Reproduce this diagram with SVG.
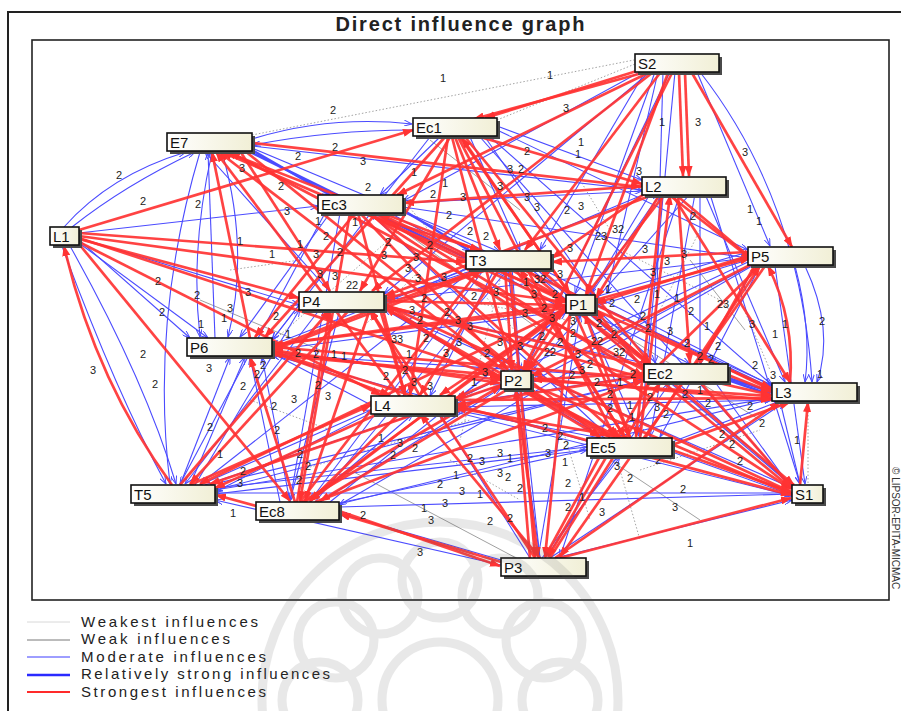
<svg xmlns="http://www.w3.org/2000/svg" width="901" height="711" viewBox="0 0 901 711">
<defs>
<style>
.r{fill:none;stroke:#ff3333;stroke-width:2.7;stroke-opacity:.92;marker-end:url(#ar)}
.b{fill:none;stroke:#4b4bff;stroke-width:1.1;marker-end:url(#ab)}
.bt{stroke-width:2.4}
.g{fill:none;stroke:#777;stroke-width:.7}
.d{fill:none;stroke:#9a9a9a;stroke-width:.9;stroke-dasharray:1.5 2}
.sh{fill:#4a4a4a}
.bx{fill:url(#cream);stroke:#111;stroke-width:1.6}
.nt{font-family:"Liberation Sans",Arial,sans-serif;font-size:15px;fill:#111}
.lb text{font-family:"Liberation Sans",Arial,sans-serif;font-size:11px;fill:#222;text-anchor:middle}
.lg{font-family:"Liberation Sans",Arial,sans-serif;font-size:15px;fill:#222}
</style>
<linearGradient id="cream" x1="0" y1="0" x2="1" y2="0"><stop offset="0" stop-color="#ffffff"/><stop offset="1" stop-color="#f1efd6"/></linearGradient>
<marker id="ar" markerWidth="11" markerHeight="8" refX="10" refY="4" orient="auto" markerUnits="userSpaceOnUse"><path d="M0,0 L11,4 L0,8 z" fill="#ff3333"/></marker>
<marker id="ab" markerWidth="8" markerHeight="6" refX="8" refY="3" orient="auto" markerUnits="userSpaceOnUse"><path d="M0,0 L8,3 L0,6" fill="none" stroke="#4b4bff" stroke-width="1"/></marker>
</defs>
<rect x="0" y="0" width="901" height="711" fill="#ffffff"/>
<rect x="8" y="12" width="900" height="710" fill="none" stroke="#222" stroke-width="2"/>
<rect x="32" y="40" width="857" height="560" fill="#ffffff" stroke="#222" stroke-width="1.6"/>
<text x="460" y="31" text-anchor="middle" textLength="249" font-family="Liberation Sans,Arial,sans-serif" font-size="20" font-weight="bold" fill="#222">Direct influence graph</text>
<text transform="translate(892,467) rotate(90)" font-family="Liberation Sans,Arial,sans-serif" font-size="10" fill="#333">© LIPSOR-EPITA-MICMAC</text>

<g id="connectors">
<g id="weakest">
<line class="d" x1="497" y1="120" x2="635" y2="64"/>
<line class="d" x1="252" y1="135" x2="634" y2="60"/>
<line class="d" x1="808" y1="401" x2="808" y2="484"/>
<line class="d" x1="403" y1="200" x2="540" y2="360"/>
<line class="d" x1="272" y1="342" x2="400" y2="230"/>
<line class="d" x1="300" y1="470" x2="470" y2="420"/>
<line class="d" x1="560" y1="420" x2="590" y2="520"/>
<line class="d" x1="620" y1="250" x2="720" y2="300"/>
<line class="d" x1="460" y1="300" x2="620" y2="330"/>
<line class="d" x1="230" y1="270" x2="300" y2="260"/>
<line class="d" x1="500" y1="280" x2="460" y2="440"/>
<line class="d" x1="700" y1="230" x2="650" y2="330"/>
<line class="d" x1="640" y1="470" x2="760" y2="430"/>
<line class="d" x1="360" y1="330" x2="420" y2="270"/>
<line class="d" x1="250" y1="400" x2="330" y2="430"/>
<line class="d" x1="580" y1="180" x2="610" y2="230"/>
<line class="d" x1="450" y1="460" x2="520" y2="500"/>
<line class="d" x1="620" y1="470" x2="640" y2="540"/>
<line class="d" x1="740" y1="300" x2="770" y2="370"/>
</g>
<g id="weak">
<line class="g" x1="380" y1="214" x2="540" y2="330"/>
<line class="g" x1="600" y1="320" x2="760" y2="420"/>
<line class="g" x1="200" y1="300" x2="320" y2="350"/>
<line class="g" x1="430" y1="140" x2="520" y2="210"/>
<line class="g" x1="350" y1="470" x2="520" y2="560"/>
<line class="g" x1="610" y1="460" x2="700" y2="520"/>
<line class="g" x1="690" y1="260" x2="745" y2="330"/>
</g>
<g id="blue">
<path class="b" d="M252,139 Q330,115 412,124"/>
<path class="b" d="M412,130 Q330,130 253,145"/>
<path class="b" d="M64,227 Q110,175 186,152"/>
<path class="b" d="M72,227 Q125,185 195,152"/>
<path class="b" d="M62,246 Q115,390 166,484"/>
<path class="b" d="M70,246 Q145,380 176,484"/>
<line class="b" x1="79" y1="240" x2="190" y2="338"/>
<line class="b" x1="79" y1="243" x2="208" y2="338"/>
<line class="b" x1="79" y1="238" x2="299" y2="305"/>
<line class="b" x1="79" y1="233" x2="318" y2="206"/>
<path class="b" d="M200,152 Q150,320 170,484"/>
<path class="b" d="M212,152 Q190,250 200,337"/>
<path class="b" d="M222,152 Q250,250 228,337"/>
<line class="b bt" x1="252" y1="150" x2="330" y2="195"/>
<line class="b bt" x1="248" y1="151" x2="466" y2="258"/>
<line class="b" x1="252" y1="148" x2="500" y2="252"/>
<line class="b" x1="252" y1="146" x2="642" y2="190"/>
<line class="b" x1="640" y1="72" x2="403" y2="201"/>
<line class="b" x1="645" y1="72" x2="540" y2="250"/>
<line class="b" x1="655" y1="72" x2="575" y2="294"/>
<line class="b" x1="663" y1="72" x2="655" y2="363"/>
<line class="b" x1="670" y1="72" x2="525" y2="370"/>
<path class="b" d="M700,72 Q800,200 812,382"/>
<line class="b" x1="697" y1="72" x2="770" y2="246"/>
<line class="b" x1="650" y1="72" x2="384" y2="294"/>
<line class="b" x1="675" y1="72" x2="640" y2="437"/>
<line class="b" x1="658" y1="72" x2="607" y2="294"/>
<line class="b" x1="430" y1="137" x2="272" y2="340"/>
<line class="b" x1="440" y1="137" x2="380" y2="195"/>
<line class="b" x1="497" y1="130" x2="748" y2="250"/>
<line class="b" x1="497" y1="126" x2="642" y2="180"/>
<line class="b" x1="470" y1="137" x2="520" y2="250"/>
<line class="b" x1="480" y1="137" x2="792" y2="487"/>
<line class="b" x1="490" y1="137" x2="772" y2="385"/>
<line class="b" x1="485" y1="137" x2="595" y2="296"/>
<line class="b" x1="403" y1="203" x2="642" y2="191"/>
<line class="b" x1="403" y1="207" x2="748" y2="258"/>
<line class="b bt" x1="403" y1="210" x2="470" y2="251"/>
<line class="b" x1="403" y1="212" x2="772" y2="388"/>
<line class="b" x1="330" y1="213" x2="240" y2="337"/>
<line class="b" x1="325" y1="213" x2="180" y2="484"/>
<line class="b" x1="340" y1="213" x2="290" y2="501"/>
<line class="b" x1="390" y1="213" x2="565" y2="310"/>
<line class="b" x1="650" y1="194" x2="590" y2="294"/>
<line class="b" x1="700" y1="194" x2="700" y2="363"/>
<line class="b" x1="705" y1="194" x2="785" y2="382"/>
<line class="b" x1="710" y1="194" x2="800" y2="484"/>
<line class="b" x1="645" y1="194" x2="384" y2="303"/>
<line class="b" x1="690" y1="194" x2="531" y2="372"/>
<line class="b" x1="695" y1="194" x2="650" y2="437"/>
<line class="b" x1="680" y1="194" x2="560" y2="557"/>
<path class="b" d="M805,266 Q835,330 817,382"/>
<path class="b" d="M795,266 Q812,330 805,382"/>
<line class="b" x1="748" y1="260" x2="596" y2="306"/>
<line class="b" x1="760" y1="266" x2="710" y2="363"/>
<line class="b" x1="775" y1="266" x2="805" y2="484"/>
<line class="b" x1="750" y1="266" x2="531" y2="382"/>
<line class="b" x1="748" y1="262" x2="455" y2="400"/>
<line class="b" x1="755" y1="266" x2="660" y2="437"/>
<line class="b" x1="748" y1="258" x2="384" y2="300"/>
<line class="b" x1="752" y1="266" x2="339" y2="505"/>
<line class="b" x1="480" y1="268" x2="384" y2="300"/>
<line class="b" x1="470" y1="268" x2="272" y2="345"/>
<line class="b" x1="495" y1="268" x2="430" y2="396"/>
<line class="b" x1="512" y1="268" x2="520" y2="370"/>
<line class="b" x1="530" y1="268" x2="644" y2="368"/>
<line class="b" x1="540" y1="268" x2="772" y2="386"/>
<line class="b" x1="535" y1="268" x2="792" y2="486"/>
<line class="b" x1="485" y1="268" x2="310" y2="501"/>
<line class="b" x1="475" y1="268" x2="200" y2="484"/>
<line class="b" x1="299" y1="305" x2="272" y2="340"/>
<line class="b" x1="320" y1="309" x2="185" y2="484"/>
<line class="b" x1="340" y1="309" x2="290" y2="501"/>
<line class="b" x1="384" y1="308" x2="772" y2="390"/>
<line class="b" x1="384" y1="309" x2="792" y2="488"/>
<line class="b" x1="330" y1="292" x2="205" y2="152"/>
<line class="b" x1="595" y1="305" x2="772" y2="385"/>
<line class="b" x1="595" y1="308" x2="792" y2="486"/>
<line class="b" x1="590" y1="313" x2="690" y2="364"/>
<line class="b" x1="585" y1="313" x2="640" y2="437"/>
<line class="b" x1="566" y1="312" x2="456" y2="400"/>
<line class="b" x1="566" y1="311" x2="272" y2="350"/>
<line class="b" x1="595" y1="297" x2="748" y2="252"/>
<line class="b" x1="590" y1="295" x2="660" y2="194"/>
<line class="b" x1="215" y1="338" x2="208" y2="152"/>
<line class="b" x1="180" y1="485" x2="230" y2="357"/>
<line class="b" x1="190" y1="485" x2="245" y2="357"/>
<line class="b" x1="280" y1="502" x2="250" y2="357"/>
<line class="b" x1="290" y1="502" x2="262" y2="357"/>
<line class="b" x1="371" y1="405" x2="272" y2="353"/>
<line class="b" x1="200" y1="485" x2="371" y2="410"/>
<line class="b" x1="205" y1="485" x2="501" y2="385"/>
<line class="b" x1="210" y1="485" x2="644" y2="380"/>
<line class="b" x1="215" y1="490" x2="772" y2="398"/>
<line class="b" x1="215" y1="493" x2="792" y2="493"/>
<line class="b" x1="215" y1="488" x2="587" y2="447"/>
<line class="b" x1="195" y1="485" x2="300" y2="309"/>
<line class="b" x1="339" y1="507" x2="792" y2="494"/>
<line class="b" x1="339" y1="504" x2="772" y2="399"/>
<line class="b" x1="339" y1="503" x2="587" y2="450"/>
<line class="b" x1="320" y1="502" x2="501" y2="388"/>
<line class="b" x1="310" y1="502" x2="413" y2="414"/>
<line class="b" x1="315" y1="502" x2="508" y2="269"/>
<line class="b" x1="330" y1="502" x2="566" y2="312"/>
<line class="b" x1="540" y1="558" x2="516" y2="389"/>
<line class="b" x1="540" y1="558" x2="508" y2="269"/>
<line class="b" x1="542" y1="558" x2="620" y2="457"/>
<line class="b" x1="545" y1="558" x2="670" y2="383"/>
<line class="b" x1="550" y1="558" x2="785" y2="402"/>
<line class="b" x1="555" y1="558" x2="792" y2="500"/>
<line class="b" x1="538" y1="558" x2="580" y2="314"/>
<line class="b" x1="501" y1="560" x2="339" y2="513"/>
<line class="b" x1="501" y1="565" x2="215" y2="500"/>
<line class="b" x1="530" y1="558" x2="440" y2="414"/>
<line class="b" x1="672" y1="452" x2="792" y2="495"/>
<line class="b" x1="672" y1="442" x2="780" y2="401"/>
<line class="b" x1="600" y1="438" x2="455" y2="410"/>
<line class="b" x1="605" y1="438" x2="384" y2="309"/>
<line class="b" x1="610" y1="438" x2="370" y2="213"/>
<line class="b" x1="590" y1="442" x2="272" y2="355"/>
<line class="b" x1="587" y1="450" x2="215" y2="494"/>
<line class="b" x1="780" y1="401" x2="800" y2="484"/>
<line class="b bt" x1="728" y1="378" x2="771" y2="392"/>
<line class="b bt" x1="728" y1="380" x2="771" y2="395"/>
<line class="b" x1="715" y1="382" x2="792" y2="489"/>
<line class="b" x1="644" y1="375" x2="456" y2="404"/>
<line class="b" x1="644" y1="378" x2="272" y2="354"/>
<line class="b" x1="644" y1="380" x2="215" y2="490"/>
<line class="b" x1="455" y1="412" x2="792" y2="496"/>
<line class="b" x1="455" y1="407" x2="772" y2="400"/>
<line class="b" x1="371" y1="413" x2="215" y2="492"/>
</g>
<g id="red">
<line class="r" x1="640" y1="70" x2="485" y2="118"/>
<line class="r" x1="646" y1="72" x2="474" y2="119"/>
<line class="r" x1="679" y1="73" x2="683" y2="176"/>
<line class="r" x1="685" y1="73" x2="689" y2="176"/>
<line class="r" x1="692" y1="73" x2="792" y2="247"/>
<line class="r" x1="660" y1="73" x2="525" y2="250"/>
<line class="r" x1="668" y1="73" x2="586" y2="294"/>
<line class="r" x1="652" y1="73" x2="372" y2="291"/>
<line class="r" x1="672" y1="73" x2="523" y2="370"/>
<line class="r" x1="650" y1="72" x2="397" y2="195"/>
<line class="r" x1="79" y1="230" x2="413" y2="130"/>
<line class="r" x1="79" y1="233" x2="466" y2="262"/>
<line class="r" x1="79" y1="236" x2="565" y2="302"/>
<line class="r" x1="79" y1="239" x2="299" y2="298"/>
<line class="r" x1="79" y1="242" x2="381" y2="395"/>
<line class="r" x1="79" y1="244" x2="290" y2="501"/>
<line class="r" x1="79" y1="238" x2="500" y2="377"/>
<path class="r" d="M172,485 Q95,380 64,246"/>
<line class="r" x1="252" y1="143" x2="641" y2="187"/>
<line class="r" x1="480" y1="251" x2="226" y2="152"/>
<line class="r" x1="566" y1="300" x2="222" y2="152"/>
<line class="r" x1="505" y1="371" x2="219" y2="152"/>
<line class="r" x1="400" y1="396" x2="216" y2="152"/>
<line class="r" x1="644" y1="370" x2="230" y2="152"/>
<line class="r" x1="240" y1="151" x2="330" y2="291"/>
<line class="r" x1="245" y1="151" x2="600" y2="437"/>
<line class="r" x1="455" y1="137" x2="500" y2="250"/>
<line class="r" x1="450" y1="137" x2="360" y2="291"/>
<line class="r" x1="460" y1="137" x2="570" y2="294"/>
<line class="r" x1="452" y1="137" x2="512" y2="370"/>
<line class="r" x1="448" y1="137" x2="410" y2="395"/>
<line class="r" x1="465" y1="137" x2="650" y2="363"/>
<line class="r" x1="480" y1="137" x2="642" y2="184"/>
<line class="r" x1="445" y1="137" x2="265" y2="337"/>
<line class="r" x1="458" y1="137" x2="615" y2="437"/>
<line class="r" x1="362" y1="213" x2="480" y2="250"/>
<line class="r" x1="365" y1="213" x2="565" y2="307"/>
<line class="r" x1="358" y1="213" x2="405" y2="395"/>
<line class="r" x1="360" y1="213" x2="508" y2="370"/>
<line class="r" x1="370" y1="213" x2="620" y2="437"/>
<line class="r" x1="375" y1="213" x2="643" y2="376"/>
<line class="r" x1="368" y1="213" x2="791" y2="489"/>
<line class="r" x1="355" y1="213" x2="255" y2="337"/>
<line class="r" x1="350" y1="213" x2="300" y2="501"/>
<line class="r" x1="668" y1="194" x2="751" y2="259"/>
<line class="r" x1="675" y1="194" x2="758" y2="264"/>
<line class="r" x1="660" y1="194" x2="596" y2="298"/>
<line class="r" x1="665" y1="194" x2="528" y2="370"/>
<line class="r" x1="672" y1="194" x2="790" y2="382"/>
<line class="r" x1="662" y1="194" x2="636" y2="437"/>
<line class="r" x1="655" y1="194" x2="385" y2="296"/>
<line class="r" x1="650" y1="190" x2="552" y2="258"/>
<line class="r" x1="678" y1="194" x2="690" y2="363"/>
<line class="r" x1="642" y1="186" x2="404" y2="203"/>
<line class="r" x1="748" y1="256" x2="596" y2="303"/>
<line class="r" x1="752" y1="264" x2="532" y2="376"/>
<line class="r" x1="755" y1="265" x2="700" y2="363"/>
<line class="r" x1="748" y1="252" x2="552" y2="262"/>
<path class="r" d="M790,383 Q795,320 768,266"/>
<line class="r" x1="765" y1="266" x2="560" y2="557"/>
<line class="r" x1="508" y1="268" x2="565" y2="300"/>
<line class="r" x1="505" y1="268" x2="512" y2="370"/>
<line class="r" x1="500" y1="268" x2="420" y2="395"/>
<line class="r" x1="515" y1="268" x2="625" y2="437"/>
<line class="r" x1="495" y1="268" x2="385" y2="299"/>
<line class="r" x1="510" y1="268" x2="535" y2="557"/>
<line class="r" x1="520" y1="268" x2="771" y2="390"/>
<line class="r" x1="490" y1="268" x2="273" y2="350"/>
<line class="r" x1="525" y1="268" x2="791" y2="488"/>
<line class="r" x1="384" y1="301" x2="565" y2="305"/>
<line class="r" x1="384" y1="303" x2="500" y2="380"/>
<line class="r" x1="380" y1="309" x2="405" y2="395"/>
<line class="r" x1="384" y1="305" x2="643" y2="378"/>
<line class="r" x1="384" y1="306" x2="771" y2="395"/>
<line class="r" x1="384" y1="307" x2="600" y2="437"/>
<line class="r" x1="384" y1="304" x2="791" y2="492"/>
<line class="r" x1="370" y1="309" x2="305" y2="501"/>
<line class="r" x1="350" y1="309" x2="190" y2="484"/>
<line class="r" x1="566" y1="305" x2="525" y2="370"/>
<line class="r" x1="566" y1="310" x2="440" y2="395"/>
<line class="r" x1="575" y1="313" x2="630" y2="437"/>
<line class="r" x1="580" y1="313" x2="650" y2="365"/>
<line class="r" x1="595" y1="310" x2="771" y2="388"/>
<line class="r" x1="590" y1="313" x2="794" y2="485"/>
<line class="r" x1="570" y1="313" x2="545" y2="557"/>
<line class="r" x1="566" y1="308" x2="273" y2="345"/>
<line class="r" x1="570" y1="295" x2="462" y2="138"/>
<line class="r" x1="566" y1="302" x2="380" y2="214"/>
<line class="r" x1="595" y1="300" x2="750" y2="258"/>
<line class="r" x1="566" y1="306" x2="310" y2="501"/>
<line class="r" x1="566" y1="309" x2="200" y2="484"/>
<line class="r" x1="644" y1="373" x2="532" y2="380"/>
<line class="r" x1="644" y1="376" x2="456" y2="405"/>
<line class="r" x1="644" y1="370" x2="596" y2="310"/>
<line class="r" x1="728" y1="375" x2="771" y2="392"/>
<line class="r" x1="700" y1="382" x2="791" y2="487"/>
<line class="r" x1="650" y1="382" x2="548" y2="557"/>
<line class="r" x1="650" y1="364" x2="540" y2="269"/>
<line class="r" x1="660" y1="364" x2="760" y2="266"/>
<line class="r" x1="516" y1="371" x2="456" y2="398"/>
<line class="r" x1="516" y1="388" x2="538" y2="557"/>
<line class="r" x1="520" y1="388" x2="610" y2="437"/>
<line class="r" x1="531" y1="385" x2="791" y2="494"/>
<line class="r" x1="531" y1="380" x2="771" y2="396"/>
<line class="r" x1="501" y1="380" x2="273" y2="352"/>
<line class="r" x1="510" y1="388" x2="320" y2="501"/>
<line class="r" x1="501" y1="385" x2="210" y2="484"/>
<line class="r" x1="413" y1="396" x2="273" y2="352"/>
<line class="r" x1="400" y1="413" x2="310" y2="501"/>
<line class="r" x1="380" y1="413" x2="215" y2="488"/>
<line class="r" x1="455" y1="405" x2="791" y2="495"/>
<line class="r" x1="455" y1="400" x2="771" y2="398"/>
<line class="r" x1="420" y1="396" x2="370" y2="310"/>
<line class="r" x1="628" y1="438" x2="456" y2="408"/>
<line class="r" x1="620" y1="438" x2="525" y2="389"/>
<line class="r" x1="630" y1="438" x2="585" y2="314"/>
<line class="r" x1="625" y1="438" x2="520" y2="269"/>
<line class="r" x1="615" y1="438" x2="385" y2="308"/>
<line class="r" x1="672" y1="450" x2="791" y2="492"/>
<line class="r" x1="672" y1="445" x2="790" y2="402"/>
<line class="r" x1="640" y1="438" x2="670" y2="195"/>
<line class="r" x1="645" y1="438" x2="760" y2="266"/>
<line class="r" x1="600" y1="456" x2="545" y2="557"/>
<line class="r" x1="540" y1="558" x2="420" y2="414"/>
<line class="r" x1="535" y1="558" x2="370" y2="310"/>
<line class="r" x1="550" y1="558" x2="660" y2="383"/>
<line class="r" x1="560" y1="558" x2="791" y2="498"/>
<line class="r" x1="555" y1="558" x2="780" y2="402"/>
<line class="r" x1="530" y1="558" x2="516" y2="389"/>
<line class="r" x1="501" y1="562" x2="340" y2="514"/>
<line class="r" x1="339" y1="511" x2="500" y2="566"/>
<line class="r" x1="297" y1="502" x2="330" y2="310"/>
<line class="r" x1="300" y1="502" x2="480" y2="269"/>
<line class="r" x1="305" y1="502" x2="565" y2="311"/>
<line class="r" x1="302" y1="502" x2="501" y2="386"/>
<line class="r" x1="315" y1="502" x2="643" y2="380"/>
<line class="r" x1="295" y1="502" x2="250" y2="357"/>
<line class="r" x1="256" y1="506" x2="216" y2="495"/>
<line class="r" x1="180" y1="485" x2="330" y2="310"/>
<line class="r" x1="190" y1="485" x2="371" y2="405"/>
<line class="r" x1="272" y1="345" x2="565" y2="305"/>
<line class="r" x1="272" y1="348" x2="480" y2="269"/>
<line class="r" x1="272" y1="350" x2="500" y2="383"/>
<line class="r" x1="272" y1="352" x2="390" y2="395"/>
<line class="r" x1="272" y1="347" x2="643" y2="378"/>
<line class="r" x1="272" y1="355" x2="771" y2="400"/>
<line class="r" x1="250" y1="338" x2="212" y2="152"/>
<line class="r" x1="800" y1="485" x2="808" y2="402"/>
</g>
<g class="lb">
<text x="443" y="82">1</text><text x="550" y="79">1</text><text x="333" y="114">2</text><text x="566" y="112">3</text><text x="698" y="126">3</text><text x="662" y="126">1</text><text x="745" y="156">3</text><text x="581" y="146">1</text><text x="578" y="158">1</text><text x="527" y="155">2</text><text x="510" y="173">3</text><text x="521" y="173">2</text><text x="298" y="160">2</text><text x="335" y="151">2</text><text x="363" y="165">3</text><text x="242" y="172">3</text><text x="281" y="190">2</text><text x="414" y="176">1</text><text x="368" y="191">2</text><text x="287" y="215">3</text><text x="318" y="225">1</text><text x="240" y="245">1</text><text x="326" y="240">2</text><text x="119" y="179">2</text><text x="143" y="205">2</text><text x="198" y="208">2</text><text x="639" y="175">3</text><text x="500" y="190">3</text><text x="463" y="201">3</text><text x="527" y="201">3</text><text x="537" y="211">3</text><text x="567" y="214">2</text><text x="581" y="210">3</text><text x="470" y="235">2</text><text x="486" y="240">2</text><text x="445" y="187">1</text><text x="433" y="198">2</text><text x="449" y="219">2</text><text x="693" y="220">2</text><text x="750" y="213">1</text><text x="759" y="225">1</text><text x="601" y="240">23</text><text x="618" y="233">32</text><text x="570" y="252">3</text><text x="645" y="253">3</text><text x="667" y="265">3</text><text x="684" y="258">3</text><text x="653" y="276">3</text>
<text x="158" y="285">2</text><text x="162" y="316">2</text><text x="143" y="358">2</text><text x="155" y="388">2</text><text x="93" y="374">3</text><text x="197" y="299">2</text><text x="201" y="328">1</text><text x="230" y="312">3</text><text x="209" y="372">3</text><text x="272" y="258">1</text><text x="224" y="322">1</text><text x="248" y="296">3</text><text x="276" y="320">2</text><text x="288" y="338">1</text><text x="298" y="357">2</text><text x="316" y="358">2</text><text x="334" y="358">1</text><text x="344" y="360">1</text><text x="263" y="369">2</text><text x="243" y="390">2</text><text x="257" y="378">2</text><text x="294" y="403">3</text><text x="274" y="410">2</text><text x="318" y="389">2</text><text x="328" y="400">3</text><text x="243" y="475">2</text><text x="210" y="431">2</text><text x="220" y="458">1</text><text x="277" y="434">2</text><text x="300" y="458">2</text><text x="299" y="484">2</text><text x="308" y="470">2</text><text x="240" y="487">3</text><text x="233" y="517">1</text><text x="363" y="519">2</text><text x="431" y="524">3</text><text x="420" y="556">3</text>
<text x="300" y="248">1</text><text x="340" y="256">2</text><text x="335" y="280">3</text><text x="316" y="258">3</text><text x="320" y="278">3</text><text x="352" y="289">22</text><text x="355" y="226">1</text><text x="388" y="246">2</text><text x="384" y="259">3</text><text x="416" y="261">3</text><text x="430" y="249">2</text><text x="408" y="272">3</text><text x="418" y="282">3</text><text x="444" y="281">3</text><text x="424" y="302">2</text><text x="412" y="314">3</text><text x="420" y="324">2</text><text x="426" y="342">2</text><text x="397" y="343">33</text><text x="409" y="358">1</text><text x="405" y="374">2</text><text x="386" y="380">2</text><text x="414" y="386">3</text><text x="430" y="390">3</text><text x="446" y="357">3</text><text x="447" y="316">2</text><text x="458" y="324">3</text><text x="474" y="300">2</text><text x="496" y="296">3</text><text x="470" y="330">3</text><text x="500" y="346">3</text><text x="487" y="357">2</text><text x="485" y="376">3</text><text x="459" y="346">3</text><text x="474" y="386">1</text><text x="520" y="350">3</text><text x="525" y="317">3</text><text x="526" y="286">1</text><text x="534" y="298">3</text><text x="544" y="312">2</text><text x="552" y="322">3</text><text x="560" y="278">3</text><text x="555" y="298">2</text><text x="542" y="340">2</text><text x="550" y="356">22</text><text x="540" y="283">32</text><text x="573" y="325">3</text><text x="573" y="337">2</text><text x="578" y="358">3</text><text x="560" y="346">2</text><text x="572" y="379">2</text><text x="590" y="368">2</text><text x="597" y="386">2</text><text x="582" y="374">3</text><text x="597" y="345">22</text><text x="599" y="327">2</text><text x="614" y="338">2</text><text x="619" y="356">32</text><text x="633" y="378">2</text><text x="620" y="386">1</text><text x="610" y="398">2</text><text x="610" y="412">2</text><text x="630" y="409">1</text><text x="632" y="421">1</text><text x="650" y="401">2</text><text x="657" y="411">3</text><text x="666" y="418">2</text><text x="685" y="398">2</text><text x="708" y="407">2</text><text x="700" y="394">1</text>
<text x="608" y="293">1</text><text x="612" y="307">2</text><text x="637" y="303">2</text><text x="657" y="298">1</text><text x="677" y="302">1</text><text x="643" y="320">2</text><text x="648" y="332">2</text><text x="687" y="347">2</text><text x="718" y="350">2</text><text x="723" y="308">23</text><text x="752" y="328">3</text><text x="707" y="330">1</text><text x="785" y="328">1</text><text x="775" y="338">1</text><text x="822" y="325">2</text><text x="755" y="369">2</text><text x="773" y="379">3</text><text x="711" y="363">2</text><text x="820" y="378">1</text><text x="762" y="427">2</text><text x="722" y="438">2</text><text x="732" y="448">2</text><text x="740" y="465">2</text><text x="797" y="444">1</text><text x="750" y="410">2</text><text x="691" y="315">2</text><text x="670" y="335">3</text><text x="700" y="360">2</text>
<text x="470" y="462">2</text><text x="456" y="479">1</text><text x="462" y="495">3</text><text x="482" y="465">3</text><text x="500" y="457">3</text><text x="510" y="462">1</text><text x="500" y="477">3</text><text x="508" y="481">2</text><text x="520" y="492">2</text><text x="440" y="488">2</text><text x="415" y="452">2</text><text x="400" y="447">3</text><text x="381" y="442">1</text><text x="393" y="459">2</text><text x="424" y="512">1</text><text x="445" y="507">3</text><text x="510" y="522">2</text><text x="545" y="432">2</text><text x="560" y="440">2</text><text x="548" y="457">3</text><text x="566" y="449">2</text><text x="565" y="466">1</text><text x="582" y="501">1</text><text x="568" y="487">2</text><text x="568" y="511">2</text><text x="602" y="516">3</text><text x="617" y="470">3</text><text x="630" y="482">2</text><text x="658" y="464">2</text><text x="690" y="547">1</text><text x="683" y="493">2</text><text x="675" y="511">3</text><text x="490" y="525">2</text><text x="480" y="498">1</text>
</g>
</g>

<g id="nodes">
<g id="n-S2"><rect class="sh" x="638" y="57" width="84" height="18"/><rect class="bx" x="635" y="54" width="84" height="18"/><text class="nt" x="638" y="69">S2</text></g>
<g id="n-Ec1"><rect class="sh" x="416" y="121" width="84" height="18"/><rect class="bx" x="413" y="118" width="84" height="18"/><text class="nt" x="416" y="133">Ec1</text></g>
<g id="n-E7"><rect class="sh" x="170" y="136" width="85" height="18"/><rect class="bx" x="167" y="133" width="85" height="18"/><text class="nt" x="170" y="148">E7</text></g>
<g id="n-Ec3"><rect class="sh" x="321" y="198" width="85" height="18"/><rect class="bx" x="318" y="195" width="85" height="18"/><text class="nt" x="321" y="210">Ec3</text></g>
<g id="n-L1"><rect class="sh" x="53" y="230" width="29" height="18"/><rect class="bx" x="50" y="227" width="29" height="18"/><text class="nt" x="53" y="242">L1</text></g>
<g id="n-L2"><rect class="sh" x="645" y="180" width="84" height="18"/><rect class="bx" x="642" y="177" width="84" height="18"/><text class="nt" x="645" y="192">L2</text></g>
<g id="n-P5"><rect class="sh" x="751" y="250" width="85" height="18"/><rect class="bx" x="748" y="247" width="85" height="18"/><text class="nt" x="751" y="262">P5</text></g>
<g id="n-T3"><rect class="sh" x="469" y="254" width="85" height="18"/><rect class="bx" x="466" y="251" width="85" height="18"/><text class="nt" x="469" y="266">T3</text></g>
<g id="n-P4"><rect class="sh" x="302" y="295" width="85" height="18"/><rect class="bx" x="299" y="292" width="85" height="18"/><text class="nt" x="302" y="307">P4</text></g>
<g id="n-P1"><rect class="sh" x="569" y="298" width="29" height="18"/><rect class="bx" x="566" y="295" width="29" height="18"/><text class="nt" x="569" y="310">P1</text></g>
<g id="n-P6"><rect class="sh" x="190" y="341" width="85" height="18"/><rect class="bx" x="187" y="338" width="85" height="18"/><text class="nt" x="190" y="353">P6</text></g>
<g id="n-Ec2"><rect class="sh" x="647" y="367" width="84" height="18"/><rect class="bx" x="644" y="364" width="84" height="18"/><text class="nt" x="647" y="379">Ec2</text></g>
<g id="n-P2"><rect class="sh" x="504" y="374" width="30" height="18"/><rect class="bx" x="501" y="371" width="30" height="18"/><text class="nt" x="504" y="386">P2</text></g>
<g id="n-L3"><rect class="sh" x="775" y="386" width="85" height="18"/><rect class="bx" x="772" y="383" width="85" height="18"/><text class="nt" x="775" y="398">L3</text></g>
<g id="n-L4"><rect class="sh" x="374" y="399" width="84" height="18"/><rect class="bx" x="371" y="396" width="84" height="18"/><text class="nt" x="374" y="411">L4</text></g>
<g id="n-Ec5"><rect class="sh" x="590" y="441" width="85" height="18"/><rect class="bx" x="587" y="438" width="85" height="18"/><text class="nt" x="590" y="453">Ec5</text></g>
<g id="n-S1"><rect class="sh" x="795" y="488" width="31" height="18"/><rect class="bx" x="792" y="485" width="31" height="18"/><text class="nt" x="795" y="500">S1</text></g>
<g id="n-T5"><rect class="sh" x="134" y="488" width="84" height="18"/><rect class="bx" x="131" y="485" width="84" height="18"/><text class="nt" x="134" y="500">T5</text></g>
<g id="n-Ec8"><rect class="sh" x="259" y="505" width="83" height="18"/><rect class="bx" x="256" y="502" width="83" height="18"/><text class="nt" x="259" y="517">Ec8</text></g>
<g id="n-P3"><rect class="sh" x="504" y="561" width="85" height="18"/><rect class="bx" x="501" y="558" width="85" height="18"/><text class="nt" x="504" y="573">P3</text></g>
</g>

<g id="legend">
<line x1="27" y1="622" x2="70" y2="622" stroke="#d8d8d8" stroke-width="1"/>
<line x1="27" y1="640" x2="70" y2="640" stroke="#555" stroke-width="0.8"/>
<line x1="27" y1="657" x2="70" y2="657" stroke="#3c3cff" stroke-width="1"/>
<line x1="27" y1="675" x2="70" y2="675" stroke="#2a2aff" stroke-width="2.4"/>
<line x1="27" y1="692" x2="70" y2="692" stroke="#ff2a2a" stroke-width="2"/>
<text class="lg" x="81" y="627" textLength="177">Weakest influences</text>
<text class="lg" x="81" y="644" textLength="149">Weak influences</text>
<text class="lg" x="81" y="662" textLength="185">Moderate influences</text>
<text class="lg" x="81" y="679" textLength="249">Relatively strong influences</text>
<text class="lg" x="81" y="697" textLength="185">Strongest influences</text>
</g>

<g id="watermark" opacity="0.13" fill="none" stroke="#555" stroke-width="9">
<circle cx="440" cy="700" r="58"/>
<circle cx="320" cy="700" r="38"/>
<circle cx="336" cy="640" r="38"/>
<circle cx="380" cy="596" r="38"/>
<circle cx="440" cy="580" r="38"/>
<circle cx="500" cy="596" r="38"/>
<circle cx="544" cy="640" r="38"/>
<circle cx="560" cy="700" r="38"/>
<circle cx="440" cy="700" r="178"/>
</g>
</svg>
